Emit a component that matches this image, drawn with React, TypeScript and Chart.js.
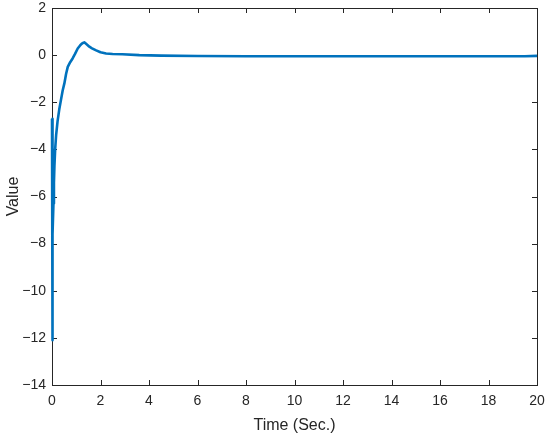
import React, { useEffect, useRef } from "react";
import { Chart, registerables } from "chart.js";

Chart.register(...registerables);

const timeValues = [0, 0.005, 0.02, 0.04, 0.06, 0.08, 0.1, 0.13, 0.17, 0.23, 0.3, 0.37, 0.44, 0.51, 0.58, 0.65, 0.75, 0.85, 0.95, 1.06, 1.15, 1.22, 1.28, 1.33, 1.38, 1.45, 1.54, 1.65, 1.82, 2.0, 2.23, 2.5, 2.9, 3.6, 4.5, 6, 8, 10, 12, 14, 16, 18, 19.5, 20];
const signalValues = [-2.7, -12.1, -9.5, -7.6, -6.3, -5.4, -4.7, -4.0, -3.4, -2.8, -2.3, -1.9, -1.5, -1.2, -0.8, -0.5, -0.3, -0.14, 0.05, 0.28, 0.4, 0.48, 0.52, 0.54, 0.5, 0.44, 0.36, 0.29, 0.2, 0.12, 0.07, 0.05, 0.04, 0.0, -0.02, -0.04, -0.05, -0.05, -0.05, -0.05, -0.05, -0.05, -0.05, -0.03];
const xTicks = [0, 2, 4, 6, 8, 10, 12, 14, 16, 18, 20];
const yTicks = [-14, -12, -10, -8, -6, -4, -2, 0, 2];

const axisColor = "#262626";
const fontFamily = "'Liberation Sans', Arial, Helvetica, sans-serif";

const boxTicksPlugin = {
  id: "boxTicks",
  beforeDatasetsDraw(chart: any) {
    const { ctx, chartArea, scales } = chart;
    const { left, right, top, bottom } = chartArea;
    ctx.save();
    ctx.strokeStyle = axisColor;
    ctx.lineWidth = 1;
    ctx.strokeRect(Math.round(left) + 0.5, Math.round(top) + 0.5, Math.round(right - left), Math.round(bottom - top));
    const len = 5;
    ctx.beginPath();
    xTicks.forEach((v) => {
      const px = Math.round(scales.x.getPixelForValue(v)) + 0.5;
      ctx.moveTo(px, bottom);
      ctx.lineTo(px, bottom - len);
      ctx.moveTo(px, top);
      ctx.lineTo(px, top + len);
    });
    yTicks.forEach((v) => {
      const py = Math.round(scales.y.getPixelForValue(v)) + 0.5;
      ctx.moveTo(left, py);
      ctx.lineTo(left + len, py);
      ctx.moveTo(right, py);
      ctx.lineTo(right - len, py);
    });
    ctx.stroke();
    ctx.restore();
  },
};

export default function App() {
  const ref = useRef<HTMLCanvasElement>(null);
  useEffect(() => {
    document.body.style.margin = "0";
    const chart = new Chart(ref.current!, {
      type: "line",
      data: {
        datasets: [
          {
            data: timeValues.map((t, i) => ({ x: t, y: signalValues[i] })),
            borderColor: "#0072BD",
            borderWidth: 2.6,
            pointRadius: 0,
            tension: 0,
            fill: false,
            clip: 4,
            borderJoinStyle: "round",
          },
        ],
      },
      options: {
        responsive: false,
        animation: false,
        layout: { padding: { top: 8, right: 13, left: 0, bottom: 0 } },
        plugins: { legend: { display: false }, tooltip: { enabled: false } },
        scales: {
          x: {
            type: "linear",
            min: 0,
            max: 20,
            afterBuildTicks: (s: any) => {
              s.ticks = xTicks.map((v) => ({ value: v }));
            },
            afterFit: (s: any) => {
              s.height = 55;
              s.paddingLeft = 0;
              s.paddingRight = 0;
            },
            grid: { display: false, drawTicks: false },
            border: { display: false },
            ticks: {
              padding: 8,
              color: axisColor,
              font: { family: fontFamily, size: 14 },
              maxRotation: 0,
              autoSkip: false,
            },
            title: {
              display: true,
              text: "Time (Sec.)",
              color: axisColor,
              font: { family: fontFamily, size: 16 },
              padding: { top: 0, bottom: 5 },
            },
          },
          y: {
            type: "linear",
            min: -14,
            max: 2,
            afterBuildTicks: (s: any) => {
              s.ticks = yTicks.map((v) => ({ value: v }));
            },
            afterFit: (s: any) => {
              s.width = 52;
              s.paddingTop = 0;
              s.paddingBottom = 0;
            },
            grid: { display: false, drawTicks: false },
            border: { display: false },
            ticks: {
              padding: 6,
              color: axisColor,
              font: { family: fontFamily, size: 14 },
              autoSkip: false,
              callback: (v: any) => String(v).replace("-", "\u2212"),
            },
            title: {
              display: true,
              text: "Value",
              color: axisColor,
              font: { family: fontFamily, size: 16 },
              padding: { bottom: 0 },
            },
          },
        },
      },
      plugins: [boxTicksPlugin],
    });
    return () => chart.destroy();
  }, []);
  return (
    <div style={{ position: "absolute", left: 0, top: 0, width: 550, height: 440, background: "#fff" }}>
      <canvas ref={ref} width={550} height={440} />
    </div>
  );
}
